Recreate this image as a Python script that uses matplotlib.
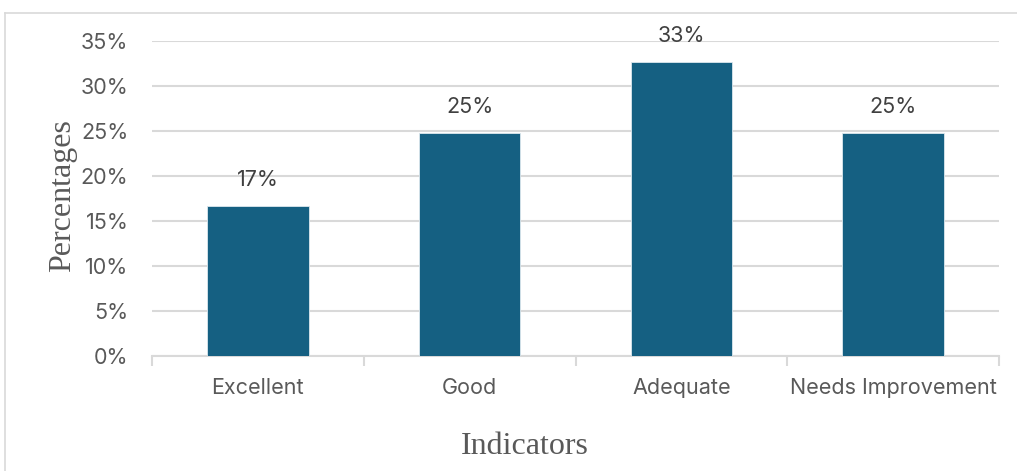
import matplotlib.pyplot as plt
from matplotlib.lines import Line2D

# survey result shares per indicator (percent)
categories = ['Excellent', 'Good', 'Adequate', 'Needs Improvement']
percentages = [16.7, 24.8, 32.7, 24.8]
y_ticks = [0, 5, 10, 15, 20, 25, 30, 35]

bar_color = '#156082'
grid_color = '#D9D9D9'
text_color = '#595959'
sans = 'Inter'
fs = 15.5

fig = plt.figure(figsize=(10.17, 4.71), dpi=100)
ax = fig.add_axes([0.1495, 0.2442, 0.9823 - 0.1495, 0.913 - 0.2442])

x = range(len(categories))
ax.bar(x, percentages, width=0.48, color=bar_color, edgecolor='#DCE8EE',
       linewidth=0.6, zorder=3)

# value labels above the bars
for xi, val in zip(x, percentages):
    ax.annotate(f'{round(val)}%', (xi, val), xytext=(0, 14.5),
                textcoords='offset points', ha='center', va='baseline',
                fontsize=fs, color='#404040', family=sans)

ax.set_xlim(-0.5, len(categories) - 0.5)
ax.set_ylim(0, 35)
ax.set_yticks(y_ticks)
ax.set_yticklabels([f'{t}%' for t in y_ticks])
ax.yaxis.grid(True, color=grid_color, linewidth=1.5, zorder=0)
ax.set_axisbelow(True)

for s in ['top', 'right', 'left']:
    ax.spines[s].set_visible(False)
ax.spines['bottom'].set_color(grid_color)
ax.spines['bottom'].set_linewidth(1.5)

ax.set_xticks(list(x))
ax.set_xticklabels(categories)
ax.tick_params(axis='x', length=0, pad=16, labelsize=fs, labelcolor=text_color)
ax.tick_params(axis='y', length=0, pad=17, labelsize=fs, labelcolor=text_color)
for lbl in ax.get_xticklabels() + ax.get_yticklabels():
    lbl.set_family(sans)

# small separators between categories on the bottom axis
ax.set_xticks([i - 0.5 for i in range(len(categories) + 1)], minor=True)
ax.tick_params(axis='x', which='minor', length=7, width=1.5, color=grid_color)

ax.set_ylabel('Percentages', family='Liberation Serif', fontsize=23,
              color=text_color, labelpad=10)
ax.yaxis.set_label_coords(-0.089, 0.508)
fig.text(0.5165, 0.037, 'Indicators', family='Liberation Serif', fontsize=23,
         color=text_color, ha='center', va='baseline')

# chart frame edges
fig.add_artist(Line2D([5 / 1017, 1], [1 - 12.5 / 471] * 2, color=grid_color,
                      linewidth=1.2, transform=fig.transFigure))
fig.add_artist(Line2D([5 / 1017] * 2, [0, 1 - 12.5 / 471], color=grid_color,
                      linewidth=1.2, transform=fig.transFigure))

fig.savefig('out.png', dpi=100)
